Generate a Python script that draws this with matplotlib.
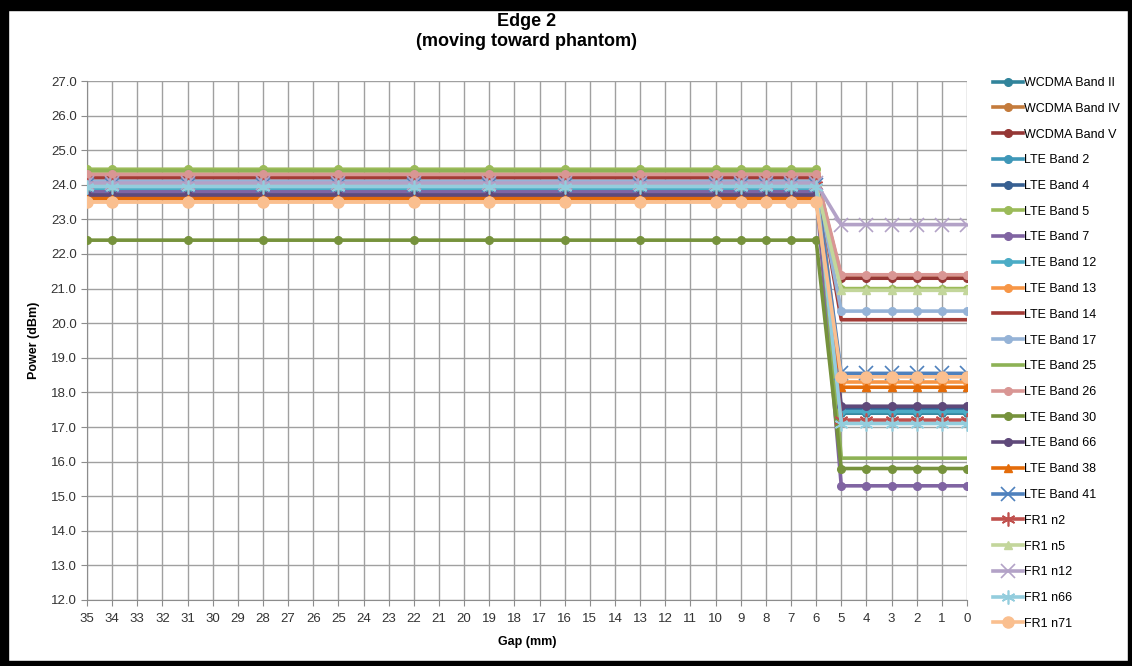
import matplotlib
matplotlib.use('Agg')
import matplotlib.pyplot as plt
from matplotlib.patches import Rectangle
from matplotlib.ticker import FormatStrFormatter

# gap positions where measurements were taken (mm)
gaps = [35, 34, 31, 28, 25, 22, 19, 16, 13, 10, 9, 8, 7, 6, 5, 4, 3, 2, 1, 0]
n_far = 14  # points from 35 down to 6

bands = ['WCDMA Band II', 'WCDMA Band IV', 'WCDMA Band V', 'LTE Band 2', 'LTE Band 4',
         'LTE Band 5', 'LTE Band 7', 'LTE Band 12', 'LTE Band 13', 'LTE Band 14',
         'LTE Band 17', 'LTE Band 25', 'LTE Band 26', 'LTE Band 30', 'LTE Band 66',
         'LTE Band 38', 'LTE Band 41', 'FR1 n2', 'FR1 n5', 'FR1 n12', 'FR1 n66', 'FR1 n71']

# power at gap 35..6 and at gap 5..0 (dBm)
far_power = [23.85, 24.25, 23.7, 23.95, 23.75,
             24.45, 23.8, 23.9, 24.3, 24.2,
             24.1, 24.4, 24.3, 22.4, 23.7,
             23.6, 24.0, 24.0, 24.0, 24.05, 23.95, 23.5]
near_power = [17.4, 21.35, 21.3, 17.45, 17.5,
              21.0, 15.3, 17.45, 18.3, 20.1,
              20.35, 16.1, 21.4, 15.8, 17.6,
              18.15, 18.55, 17.2, 20.95, 22.85, 17.1, 18.45]

colors = ['#31849B', '#C47B3C', '#953735', '#3E97B8', '#376092',
          '#9BBB59', '#8064A2', '#4BACC6', '#F79646', '#A33B36',
          '#95B3D7', '#8DB255', '#D99694', '#76923C', '#5F497A',
          '#E46C0A', '#4F81BD', '#C0504D', '#C3D69B', '#B3A2C7', '#93CDDD', '#FABF8F']
star = (6, 2, 0)
markers = ['o', 'o', 'o', 'o', 'o',
           'o', 'o', 'o', 'o', None,
           'o', None, 'o', 'o', 'o',
           '^', 'x', star, '^', 'x', star, 'o']

plt.rcParams['font.family'] = ['Liberation Sans', 'DejaVu Sans']

W, H = 1132, 666
fig = plt.figure(figsize=(W / 100, H / 100), dpi=100)
ax = fig.add_axes([87 / W, 1 - 600 / H, 880 / W, 519 / H])

for name, fp, npw, c, m in zip(bands, far_power, near_power, colors, markers):
    y = [fp] * n_far + [npw] * (len(gaps) - n_far)
    ms = 8 if name == 'FR1 n71' else 5.5
    if m in ('x', star):
        ms = 10
    ax.plot(gaps, y, color=c, lw=2.6, marker=m, ms=ms, mew=1.2 if m in ('x', star) else 1,
            label=name, zorder=3)

ax.set_xlim(35, 0)
ax.set_ylim(12, 27)
ax.set_xticks(range(35, -1, -1))
ax.set_yticks(range(12, 28))
ax.yaxis.set_major_formatter(FormatStrFormatter('%.1f'))
ax.grid(True, color='#A0A0A0', lw=1)
ax.set_axisbelow(True)
for s in ['top', 'right']:
    ax.spines[s].set_visible(False)
for s in ['left', 'bottom']:
    ax.spines[s].set_color('#8C8C8C')
ax.tick_params(colors='#8C8C8C', labelcolor='#333333', labelsize=9.5, length=4)
ax.tick_params(axis='x', pad=5)
ax.set_xlabel('Gap (mm)', fontsize=9, fontweight='bold', labelpad=8)
ax.set_ylabel('Power (dBm)', fontsize=9, fontweight='bold', labelpad=8)

fig.text(527 / W, 1 - 21 / H, 'Edge 2', ha='center', va='center', fontsize=13, fontweight='bold')
fig.text(527 / W, 1 - 41 / H, '(moving toward phantom)', ha='center', va='center',
         fontsize=13, fontweight='bold')

ax.legend(loc='upper left', bbox_to_anchor=(993 / W, 1 - 77 / H), bbox_transform=fig.transFigure,
          frameon=False, fontsize=9, handlelength=2.4, handletextpad=0.1,
          labelspacing=1.1, borderaxespad=0, borderpad=0)

# black frame around the image
for x0, y0, w, h in [(0, 0, 8, H), (0, 0, W, 5), (W - 4, 0, 4, H), (0, H - 10, W, 10)]:
    fig.patches.append(Rectangle((x0 / W, y0 / H), w / W, h / H, transform=fig.transFigure,
                                 color='black', zorder=10))

fig.savefig('out.png', dpi=100)
